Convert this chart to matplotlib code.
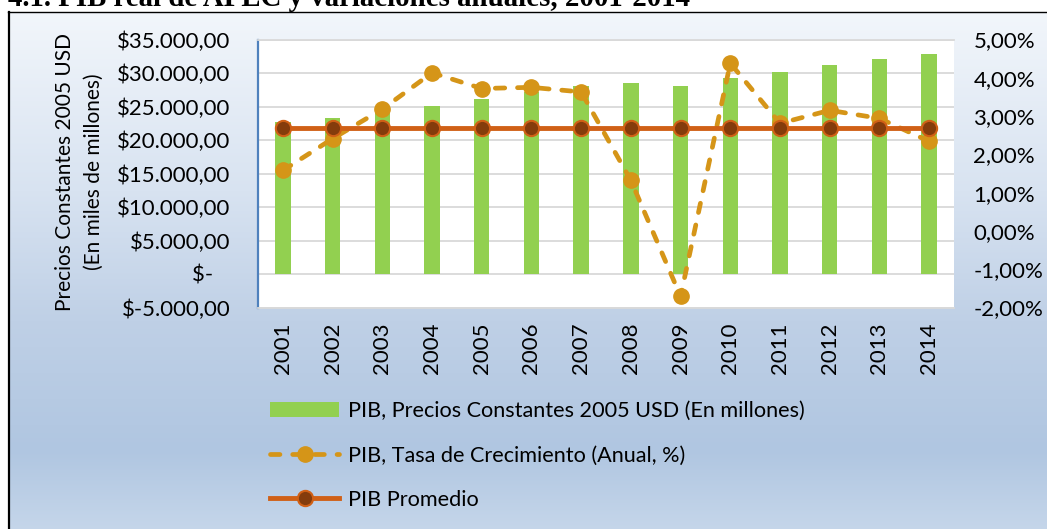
import matplotlib
matplotlib.use('Agg')
import matplotlib.pyplot as plt
import numpy as np
from matplotlib.lines import Line2D
from matplotlib.patches import Patch

plt.rcParams['font.family'] = ['Lato', 'DejaVu Sans']

# Data
years = ['2001', '2002', '2003', '2004', '2005', '2006', '2007',
         '2008', '2009', '2010', '2011', '2012', '2013', '2014']
pib = [22700, 23300, 24100, 25100, 26100, 27200, 28100,
       28550, 28050, 29300, 30200, 31200, 32100, 32900]
crecimiento = [1.58, 2.41, 3.18, 4.13, 3.72, 3.75, 3.63,
               1.32, -1.71, 4.38, 2.81, 3.15, 2.94, 2.34]
promedio = [2.68, 2.68, 2.68, 2.68, 2.68, 2.68, 2.68,
            2.68, 2.68, 2.68, 2.68, 2.68, 2.68, 2.68]

left_ticks = [-5000, 0, 5000, 10000, 15000, 20000, 25000, 30000, 35000]
left_labels = ['$-5.000,00', '$-   ', '$5.000,00', '$10.000,00', '$15.000,00',
               '$20.000,00', '$25.000,00', '$30.000,00', '$35.000,00']
right_ticks = [-2, -1, 0, 1, 2, 3, 4, 5]
right_labels = ['-2,00%', '-1,00%', '0,00%', '1,00%', '2,00%', '3,00%', '4,00%', '5,00%']

title = '4.1. PIB real de APEC y variaciones anuales, 2001-2014'
lbl_bar = 'PIB, Precios Constantes 2005 USD (En millones)'
lbl_growth = 'PIB, Tasa de Crecimiento (Anual, %)'
lbl_avg = 'PIB Promedio'

# colours
c_bar = '#92D050'
c_growth = '#D59518'
c_avg = '#D06016'
c_avg_mk = '#843C0C'
c_grid = '#D9D9D9'

W, H = 1047, 529
fig = plt.figure(figsize=(W / 100, H / 100), dpi=100)

# background: white page + gradient chart box with black border
bg = fig.add_axes([0, 0, 1, 1], zorder=-10)
bg.axis('off')
stops_y = [12, 190, 320, 450, 529]
stops_c = np.array([[242, 246, 251], [216, 227, 241], [191, 208, 230],
                    [176, 198, 225], [197, 214, 234]]) / 255.0
rows = np.arange(H)
grad = np.stack([np.interp(rows, stops_y, stops_c[:, k]) for k in range(3)], axis=1)
img = np.ones((H, W, 3))
img[12:, 9:, :] = grad[12:, None, :]
bg.imshow(img, extent=[0, W, H, 0], aspect='auto', interpolation='nearest')
bg.plot([8, W], [11.5, 11.5], color='black', lw=1.0)
bg.plot([8.5, 8.5], [11.5, H], color='black', lw=1.6)
bg.set_xlim(0, W)
bg.set_ylim(H, 0)

# title is cut off at the top edge, as in the source image
fig.text(8 / W, 1 - 5.5 / H, title, family='Liberation Serif', weight='bold',
         fontsize=20.8, ha='left', va='baseline')

# plot area
x0, x1, y0, y1 = 258, 954, 39.5, 307.5
ax = fig.add_axes([x0 / W, 1 - y1 / H, (x1 - x0) / W, (y1 - y0) / H])
ax.set_facecolor('white')
x = np.arange(len(years))
ax.bar(x, pib, width=0.31, color=c_bar, zorder=2)
ax.set_xlim(-0.5, len(years) - 0.5)
ax.set_ylim(-5000, 35000)
ax.set_yticks(left_ticks)
ax.set_yticklabels(left_labels)
ax.set_xticks(x)
ax.set_xticklabels(years, rotation=90)
ax.yaxis.grid(True, color=c_grid, lw=1.3, zorder=0)
ax.set_axisbelow(True)
ax.tick_params(axis='y', length=0, pad=20, labelsize=16)
ax.tick_params(axis='x', length=0, pad=11, labelsize=16)
ax.spines['left'].set_color('#4F81BD')
ax.spines['left'].set_linewidth(1.6)
for s in ['top', 'bottom']:
    ax.spines[s].set_color(c_grid)
    ax.spines[s].set_linewidth(1.3)
ax.spines['right'].set_visible(False)

growth_style = dict(color=c_growth, lw=3.4, ls=(0, (2.0, 2.7)),
                    dash_capstyle='round', marker='o', ms=11)
avg_style = dict(color=c_avg, lw=3.5, marker='o', ms=11,
                 mfc=c_avg_mk, mec=c_avg, mew=1.5)

ax2 = ax.twinx()
ax2.plot(x, crecimiento, zorder=3, **growth_style)
ax2.plot(x, promedio, zorder=4, **avg_style)
ax2.set_ylim(-2, 5)
ax2.set_yticks(right_ticks)
ax2.set_yticklabels(right_labels)
ax2.tick_params(axis='y', length=0, pad=14, labelsize=16)
for s in ax2.spines.values():
    s.set_visible(False)

fig.text(79 / W, 1 - 172 / H, 'Precios Constantes 2005 USD\n(En miles de millones)',
         rotation=90, ha='center', va='center', multialignment='center',
         fontsize=15, linespacing=1.55)

handles = [
    Patch(facecolor=c_bar, edgecolor='none'),
    Line2D([], [], **growth_style),
    Line2D([], [], **avg_style),
]
fig.legend(handles, [lbl_bar, lbl_growth, lbl_avg], loc='upper left',
           bbox_to_anchor=(270 / W, 1 - 401 / H), frameon=False,
           fontsize=15.6, handlelength=3.2, handletextpad=0.4,
           labelspacing=1.13, borderpad=0, borderaxespad=0)

fig.savefig('out.png', dpi=100)
